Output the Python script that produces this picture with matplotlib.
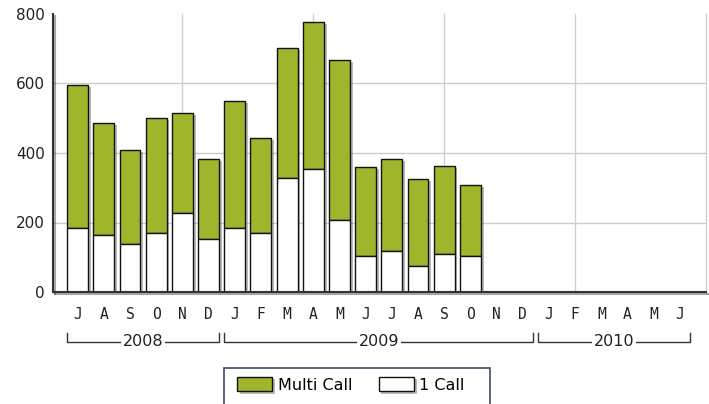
import matplotlib
matplotlib.use("Agg")
import matplotlib.pyplot as plt
import matplotlib.patheffects as pe
from matplotlib import transforms
from matplotlib.patches import Rectangle

months = ['J', 'A', 'S', 'O', 'N', 'D', 'J', 'F', 'M', 'A', 'M', 'J',
          'J', 'A', 'S', 'O', 'N', 'D', 'J', 'F', 'M', 'A', 'M', 'J']
years = ['2008', '2009', '2010']
year_spans = [(0, 5), (6, 17), (18, 23)]
one_call = [183, 163, 138, 169, 228, 153, 183, 169, 328, 354, 208, 103, 119, 75, 110, 105]
multi_call = [413, 324, 271, 332, 287, 229, 368, 275, 375, 424, 460, 257, 265, 249, 253, 202]

green = '#a0b52c'
shadow = [pe.SimplePatchShadow(offset=(2, -1.5), shadow_rgbFace='#666666', alpha=0.45), pe.Normal()]

W, H = 709, 404
fig = plt.figure(figsize=(W / 100, H / 100), dpi=100)
ax = fig.add_axes([53 / W, 1 - 292 / H, (706 - 53) / W, (292 - 14) / H])

x = list(range(len(one_call)))
# green drawn first so the white bars cover its shadow
b2 = ax.bar(x, multi_call, bottom=one_call, width=0.8, color=green, edgecolor='#111111',
            linewidth=1, zorder=3)
b1 = ax.bar(x, one_call, width=0.8, color='white', edgecolor='#111111', linewidth=1, zorder=4)
for p in list(b1) + list(b2):
    p.set_path_effects(shadow)

ax.set_xlim(-0.94, 24.0)
ax.set_ylim(0, 800)
ax.set_yticks([0, 200, 400, 600, 800])
ax.set_xticks(range(len(months)))
ax.set_xticklabels(months, family='DejaVu Sans Mono', fontsize=10.5, color='#222222')
ax.tick_params(axis='x', length=0, pad=11)
ax.tick_params(axis='y', length=0, pad=6, labelsize=11, labelcolor='#222222')

for v in [200, 400, 600]:
    ax.axhline(v, color='#cccccc', lw=1, zorder=1)
for v in [4, 9, 14, 19, 24]:
    ax.axvline(v, color='#d0d0d0', lw=1, zorder=1, clip_on=False)

for s in ['top', 'right']:
    ax.spines[s].set_visible(False)
for s in ['left', 'bottom']:
    ax.spines[s].set_color('#333333')
    ax.spines[s].set_linewidth(1.5)
    ax.spines[s].set_zorder(5)
    ax.spines[s].set_path_effects([pe.SimpleLineShadow(offset=(1.5, -1.5), alpha=0.35), pe.Normal()])

# year brackets under the month labels
tr = transforms.blended_transform_factory(ax.transData, fig.transFigure)
y_line = 1 - 342 / H
y_top = 1 - 333 / H
for name, (a, b) in zip(years, year_spans):
    x0, x1 = a - 0.4, b + 0.4
    ax.plot([x0, x0, x1, x1], [y_top, y_line, y_line, y_top], color='#333333', lw=1,
            transform=tr, clip_on=False)
    ax.text((x0 + x1) / 2, y_line, name, transform=tr, ha='center', va='center',
            fontsize=11.5, color='#222222',
            bbox=dict(facecolor='white', edgecolor='none', pad=1.2))

# legend
fig.patches.append(Rectangle((224 / W, 1 - 420 / H), (490 - 224) / W, 52 / H,
                             transform=fig.transFigure, facecolor='white',
                             edgecolor='#3c4d6b', lw=1.2))
h1 = Rectangle((0, 0), 1, 1, facecolor=green, edgecolor='#111111', lw=1, path_effects=shadow)
h2 = Rectangle((0, 0), 1, 1, facecolor='white', edgecolor='#111111', lw=1, path_effects=shadow)
fig.legend([h1, h2], ['Multi Call', '1 Call'], loc='center left',
           bbox_to_anchor=(237 / W, 1 - 385 / H), ncol=2, frameon=False,
           fontsize=11.5, handlelength=2.2, handleheight=1.0, handletextpad=0.35,
           columnspacing=1.65, borderpad=0, borderaxespad=0)

fig.savefig('out.png', dpi=100)
